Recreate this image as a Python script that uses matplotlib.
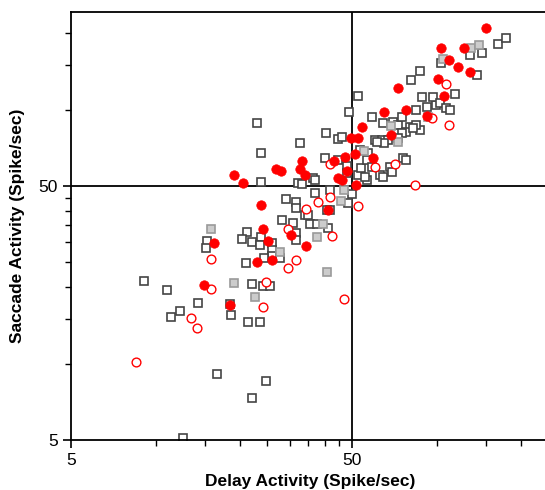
import numpy as np
import matplotlib
matplotlib.use('Agg')
import matplotlib.pyplot as plt
from matplotlib.ticker import FixedLocator, NullFormatter, FixedFormatter

plt.rcParams['font.family'] = ['Liberation Sans', 'DejaVu Sans']

# open squares: (delay, saccade)
sq_delay = [9.1, 11.0, 12.2, 11.3, 14.1, 15.2, 15.1, 18.4, 18.5, 21.3, 23.5, 16.6, 24.8, 22.0, 12.5,
            22.1, 24.2, 25.5, 20.9, 21.1, 20.3, 22.0, 23.7, 23.5, 25.9, 25.9, 25.9, 27.7, 24.4, 28.1,
            30.8, 31.7, 31.7, 29.0, 31.5, 31.5, 33.9, 35.0, 35.4, 37.4, 40.9, 40.6, 41.7, 36.8, 41.7,
            48.2, 49.9, 36.2, 32.2, 23.8, 56.3, 22.9, 23.8, 32.6, 40.3, 44.4, 48.6, 52.3, 40.0, 44.7,
            47.8, 47.8, 52.7, 53.7, 55.4, 53.3, 56.8, 56.3, 45.9, 58.7, 64.3, 69.8, 72.6, 75.1, 80.2,
            87.1, 78.1, 75.1, 60.2, 63.8, 66.9, 72.6, 75.7, 62.7, 68.1, 69.2, 64.8, 61.6, 88.5, 92.8,
            99.9, 96.9, 103, 108, 84.8, 87.1, 80.9, 104, 131, 145, 139, 166, 176, 112, 116,
            84.2, 78.1, 64.3, 33.1, 36.8, 58.7, 82.2]
sq_sacc = [21.1, 19.5, 16.1, 15.3, 17.3, 30.4, 28.5, 17.2, 15.5, 14.6, 14.6, 9.1, 8.5, 7.3, 5.1,
           20.6, 20.2, 20.2, 24.9, 33.0, 30.9, 30.1, 31.5, 29.3, 29.9, 28.0, 26.5, 26.0, 26.0, 36.8,
           35.8, 32.7, 30.7, 44.5, 43.3, 41.0, 38.5, 38.5, 35.5, 35.5, 34.2, 40.3, 40.3, 47.0, 48.3,
           42.9, 46.5, 53.8, 51.5, 51.9, 52.9, 88.7, 67.5, 74.0, 81.0, 76.6, 97.9, 113, 64.5, 63.4,
           60.0, 56.3, 55.3, 58.9, 54.3, 69.4, 67.5, 63.4, 78.0, 93.5, 88.7, 89.4, 87.1, 93.5, 85.4,
           83.2, 81.7, 81.0, 76.0, 76.0, 76.0, 77.4, 64.5, 55.3, 59.4, 56.8, 74.0, 74.6, 112, 102,
           104, 112, 106, 101, 99.7, 142, 131, 153, 164, 167, 137, 181, 192, 99.7, 115,
           87.1, 63.4, 54.3, 51.0, 52.9, 59.4, 84.7]

# gray filled squares
gray_delay = [15.8, 19.0, 22.5, 27.7, 37.4, 39.3, 40.6, 45.6, 46.7, 55.0, 68.7, 73.1, 93.5, 105, 133, 142]
gray_sacc = [33.9, 20.8, 18.3, 27.5, 31.5, 35.5, 22.9, 43.7, 48.3, 68.8, 86.2, 74.6, 93.5, 158, 175, 180]

# red filled circles
red_delay = [14.9, 16.2, 18.4, 20.4, 19.0, 23.0, 24.1, 23.7, 25.2, 25.9, 30.3, 34.4, 41.2, 51.5,
             26.9, 27.9, 33.1, 32.6, 33.9, 43.0, 44.7, 45.9, 47.1, 47.8, 51.1, 49.5, 52.3, 54.1,
             59.2, 64.8, 68.7, 72.6, 78.1, 92.1, 101, 106, 104, 111, 119, 125, 131, 150]
red_sacc = [20.4, 29.9, 17.0, 51.5, 55.3, 25.1, 33.9, 42.1, 30.4, 25.6, 32.1, 29.0, 40.3, 50.5,
            58.4, 57.3, 62.8, 58.4, 55.3, 62.8, 53.8, 52.9, 65.1, 57.3, 66.9, 77.3, 77.3, 85.4,
            64.5, 97.9, 79.5, 121, 99.7, 94.5, 132, 113, 175, 156, 147, 175, 141, 210]

# red open circles
ro_delay = [8.55, 13.4, 14.0, 15.7, 15.8, 24.1, 24.8, 29.7, 31.7, 29.7, 34.4, 37.7, 41.7, 42.3,
            46.7, 52.3, 60.6, 71.4, 83.5, 41.7, 96.0, 111, 108]
ro_sacc = [10.1, 15.1, 13.8, 25.8, 19.7, 16.7, 21.0, 23.8, 25.6, 33.9, 40.6, 43.3, 45.3, 31.8,
           18.0, 41.7, 59.4, 61.1, 50.5, 61.1, 92.7, 87.1, 126]

fig = plt.figure(figsize=(5.45, 4.9), dpi=100)
ax = fig.add_axes([0.1303, 0.102, 0.876, 0.8735])
ax.set_xscale('log')
ax.set_yscale('log')
ax.set_xlim(5, 250)
ax.set_ylim(5, 242)

ax.axvline(50, color='black', lw=1.3, zorder=1)
ax.axhline(50, color='black', lw=1.3, zorder=1)

ms = 6.3
ax.plot(sq_delay, sq_sacc, 's', ms=ms, mfc='white', mec='#444444', mew=1.2, ls='none', zorder=2)
ax.plot(gray_delay, gray_sacc, 's', ms=ms, mfc='#cccccc', mec='#9a9a9a', mew=1.2, ls='none', zorder=3)
ax.plot(ro_delay, ro_sacc, 'o', ms=ms, mfc='white', mec='red', mew=1.0, ls='none', zorder=4)
ax.plot(red_delay, red_sacc, 'o', ms=ms + 0.5, mfc='red', mec='red', mew=0.5, ls='none', zorder=5)

minor = [10, 15, 20, 25, 30, 35, 40, 45, 100, 150, 200]
for axis in (ax.xaxis, ax.yaxis):
    axis.set_major_locator(FixedLocator([5, 50]))
    axis.set_major_formatter(FixedFormatter(['5', '50']))
    axis.set_minor_locator(FixedLocator(minor))
    axis.set_minor_formatter(NullFormatter())

ax.tick_params(which='major', direction='out', length=6, width=1.2, labelsize=12.5, colors='black')
ax.tick_params(which='minor', direction='out', length=4, width=1.0)
ax.spines['right'].set_visible(False)
for s in ('left', 'bottom', 'top'):
    ax.spines[s].set_linewidth(1.3)

ax.set_xlabel('Delay Activity (Spike/sec)', fontsize=12.5, fontweight='bold', labelpad=4)
ax.set_ylabel('Saccade Activity (Spike/sec)', fontsize=12.5, fontweight='bold', labelpad=10)

fig.savefig('out.png', dpi=100)
